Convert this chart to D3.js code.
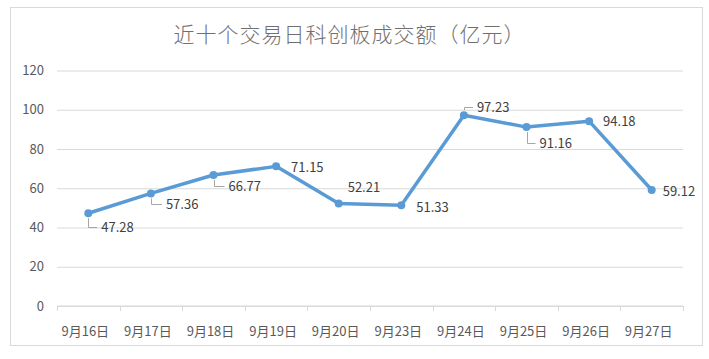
<!DOCTYPE html>
<html>
<head>
<meta charset="utf-8">
<script src="https://cdn.jsdelivr.net/npm/d3@7"></script>
<style>
  body { margin: 0; background: #fff; }
  text { font-family: "Noto Sans CJK SC", "Noto Sans", sans-serif; }
</style>
</head>
<body>
<div id="chart"></div>
<script>
const titleText = "近十个交易日科创板成交额（亿元）";
const dates = ["9月16日", "9月17日", "9月18日", "9月19日", "9月20日", "9月23日", "9月24日", "9月25日", "9月26日", "9月27日"];
const turnover = [47.28, 57.36, 66.77, 71.15, 52.21, 51.33, 97.23, 91.16, 94.18, 59.12];
const yTicks = [0, 20, 40, 60, 80, 100, 120];

// label placement (offset from point) — like Excel's manual label moves
const labelPlace = [
  { dx: 13, dy: 14, leader: true },
  { dx: 15, dy: 11, leader: true },
  { dx: 15, dy: 11, leader: true },
  { dx: 15, dy: 1, leader: false },
  { dx: 9, dy: -16, leader: false },
  { dx: 15, dy: 2, leader: false },
  { dx: 13, dy: -8, leader: true },
  { dx: 13, dy: 16, leader: true },
  { dx: 14, dy: 0, leader: false },
  { dx: 11, dy: 1, leader: false }
];

const width = 709, height = 359;
const plot = { left: 57, right: 683, top: 70.5, bottom: 306 };

const svg = d3.select("#chart").append("svg")
  .attr("width", width).attr("height", height);

// outer frame
svg.append("rect")
  .attr("x", 10.5).attr("y", 7.5).attr("width", 692).attr("height", 338)
  .attr("fill", "#fff").attr("stroke", "#d9d9d9").attr("stroke-width", 1);

svg.append("text")
  .attr("x", 349.5).attr("y", 35).attr("dy", "0.35em")
  .attr("text-anchor", "middle")
  .style("font-size", "21px").style("letter-spacing", "1px").style("font-weight", 300)
  .attr("fill", "#6f6f6f")
  .text(titleText);

const x = d3.scaleBand().domain(dates).range([plot.left, plot.right]).padding(0);
const y = d3.scaleLinear().domain([0, 120]).range([plot.bottom, plot.top]);

// grid
svg.append("g")
  .attr("transform", `translate(${plot.left},0)`)
  .call(d3.axisLeft(y).tickValues(yTicks).tickSize(-(plot.right - plot.left)).tickFormat(""))
  .call(g => g.select(".domain").remove())
  .call(g => g.selectAll("line").attr("stroke", "#d9d9d9"));

// y labels
svg.append("g").selectAll("text").data(yTicks).join("text")
  .attr("x", 44).attr("y", d => y(d)).attr("dy", "0.35em")
  .attr("text-anchor", "end")
  .attr("fill", "#595959").style("font-size", "13px")
  .text(d => d);

// x axis
const xAxis = svg.append("g").attr("transform", `translate(0,${plot.bottom})`);
xAxis.append("line").attr("x1", plot.left).attr("x2", plot.right)
  .attr("stroke", "#d9d9d9");
const bounds = dates.map(d => x(d)).concat([plot.right]);
xAxis.selectAll("line.tick").data(bounds).join("line").attr("class", "tick")
  .attr("x1", d => Math.round(d) + 0.5).attr("x2", d => Math.round(d) + 0.5)
  .attr("y1", 0).attr("y2", 5).attr("stroke", "#d9d9d9");
xAxis.selectAll("text").data(dates).join("text")
  .attr("x", d => x(d) + x.bandwidth() / 2 - 3).attr("y", 25).attr("dy", "0.35em")
  .attr("text-anchor", "middle")
  .attr("fill", "#595959").style("font-size", "13px")
  .text(d => d);

const pts = dates.map((d, i) => ({ d, v: turnover[i], px: x(d) + x.bandwidth() / 2, py: y(turnover[i]) }));

// line
const line = d3.line().x(p => p.px).y(p => p.py);
svg.append("path").datum(pts)
  .attr("fill", "none").attr("stroke", "#5b9bd5")
  .attr("stroke-width", 3.5).attr("stroke-linejoin", "round").attr("stroke-linecap", "round")
  .attr("d", line);

svg.append("g").selectAll("circle").data(pts).join("circle")
  .attr("cx", p => p.px).attr("cy", p => p.py).attr("r", 4)
  .attr("fill", "#5b9bd5");

// leader lines
svg.append("g").selectAll("path").data(pts.filter((p, i) => labelPlace[i].leader))
  .join("path")
  .attr("fill", "none").attr("stroke", "#a6a6a6").attr("stroke-width", 1)
  .attr("d", p => {
    const lp = labelPlace[pts.indexOf(p)];
    const x0 = Math.round(p.px) + 0.5;
    const ly = Math.round(p.py + lp.dy) + 0.5;
    const y0 = lp.dy > 0 ? p.py + 5 : p.py - 5;
    return `M${x0},${y0}V${ly}H${p.px + lp.dx - 4}`;
  });

// data labels
svg.append("g").selectAll("text").data(pts).join("text")
  .attr("x", (p, i) => p.px + labelPlace[i].dx)
  .attr("y", (p, i) => p.py + labelPlace[i].dy)
  .attr("dy", "0.35em")
  .attr("fill", "#404040").style("font-size", "13px")
  .text(p => p.v.toFixed(2));
</script>
</body>
</html>
